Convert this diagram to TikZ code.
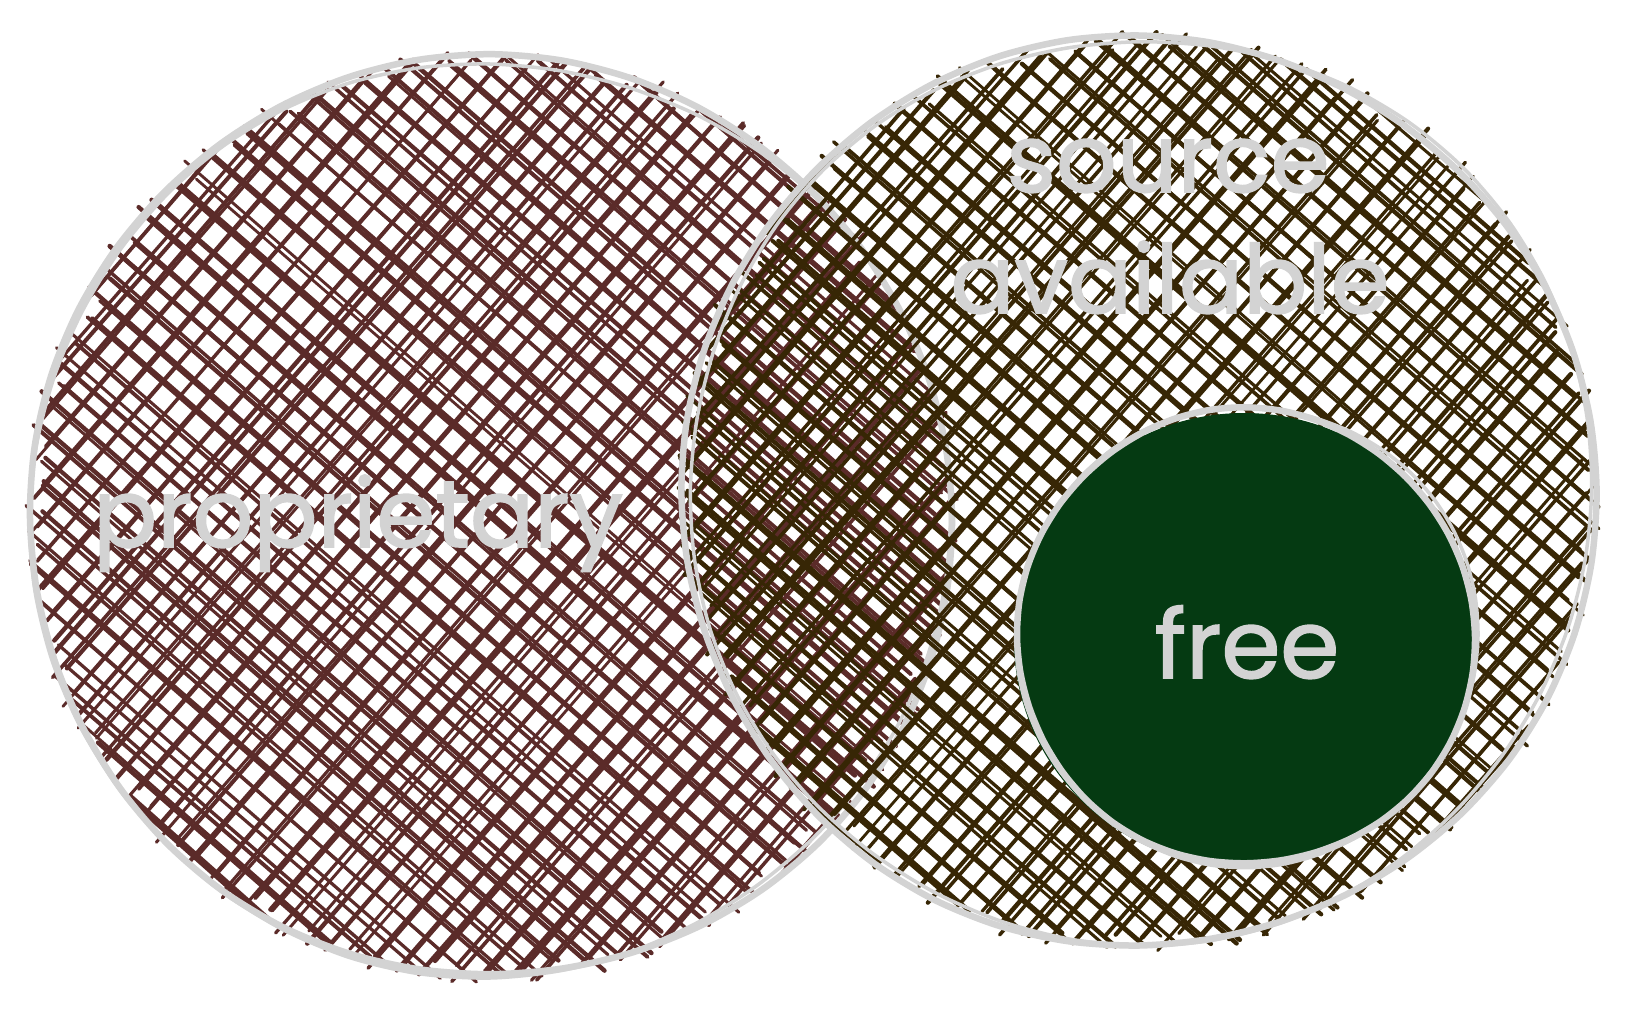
\documentclass[tikz,border=0pt]{standalone}
\usepackage{fontspec}
\setmainfont{Poppins}[FakeBold=1.6]
\definecolor{outl}{HTML}{D3D3D3}
\definecolor{hatchL}{HTML}{5B2B29}
\definecolor{hatchR}{HTML}{372605}
\definecolor{greenF}{HTML}{053A12}
% cx, cy, R, colour
\newcommand\myhatch[4]{%
 \foreach \ang in {41,-49}{%
  \foreach \k in {-22,...,22}{%
   \foreach \s in {0,1}{%
    \pgfmathsetmacro\dd{\k*22.5 + \s*(1.5+4*rnd) + 3*rand}%
    \pgfmathsetmacro\LL{100*sqrt(max(0,(#3/100)^2-(\dd/100)^2))}%
    \pgfmathtruncatemacro\okk{\LL>12 ? 1 : 0}%
    \ifnum\okk=1
     \pgfmathsetmacro\ea{\LL+13*rand-1}%
     \pgfmathsetmacro\eb{\LL+13*rand-1}%
     \pgfmathsetmacro\ua{cos(\ang)}%
     \pgfmathsetmacro\ub{sin(\ang)}%
     \pgfmathsetmacro\pa{1.5*rand}%
     \pgfmathsetmacro\pb{1.5*rand}%
     \pgfmathsetmacro\lw{2.8+1.8*rnd}%
     \draw[#4, line width=\lw pt]
       ({#1 - \ub*(\dd+\pa) - \ea*\ua}, {#2 + \ua*(\dd+\pa) - \ea*\ub}) --
       ({#1 - \ub*(\dd+\pb) + \eb*\ua}, {#2 + \ua*(\dd+\pb) + \eb*\ub});
    \fi
 }}}}
% cx, cy, R, phase, amp, width
\newcommand\sketchring[6]{%
 \draw[outl, line width=#6pt, line join=round] plot[smooth cycle, samples=40, domain=0:351, variable=\t]
   ({#1+(#3+#5*sin(2*\t+#4))*cos(\t)}, {#2+(#3+#5*sin(3*\t+#4))*sin(\t)});}
\begin{document}
\begin{tikzpicture}[x=1pt, y=-1pt, line cap=round,
  lbl/.style={text=outl, font=\fontsize{95}{95}\selectfont, inner sep=0pt, anchor=base}]
\pgfmathsetseed{4242}
\useasboundingbox (0,0) rectangle (1628,1010);
\fill[white] (0,0) rectangle (1628,1010);
% left circle
\myhatch{491}{517}{458}{hatchL}
\sketchring{491}{517}{460}{20}{3}{6.5}
\sketchring{490}{519}{457}{120}{4}{3.5}
\node[lbl] (prop) at (358,547) {proprietary};
% right circle
\myhatch{1139}{492}{453}{hatchR}
\sketchring{1139}{492}{455}{60}{3}{6.5}
\sketchring{1141}{490}{452}{200}{4}{3.5}
\node[lbl] (src) at (1168,192) {source};
\node[lbl] (avail) at (1170,313) {available};
% free circle
\fill[greenF] (1244,640) ellipse[x radius=230, y radius=227];
\sketchring{1246}{637}{228}{30}{2}{6.5}
\sketchring{1247}{636}{230}{150}{2}{3.5}
\node[lbl] (free) at (1247,678) {free};
\end{tikzpicture}
\end{document}
